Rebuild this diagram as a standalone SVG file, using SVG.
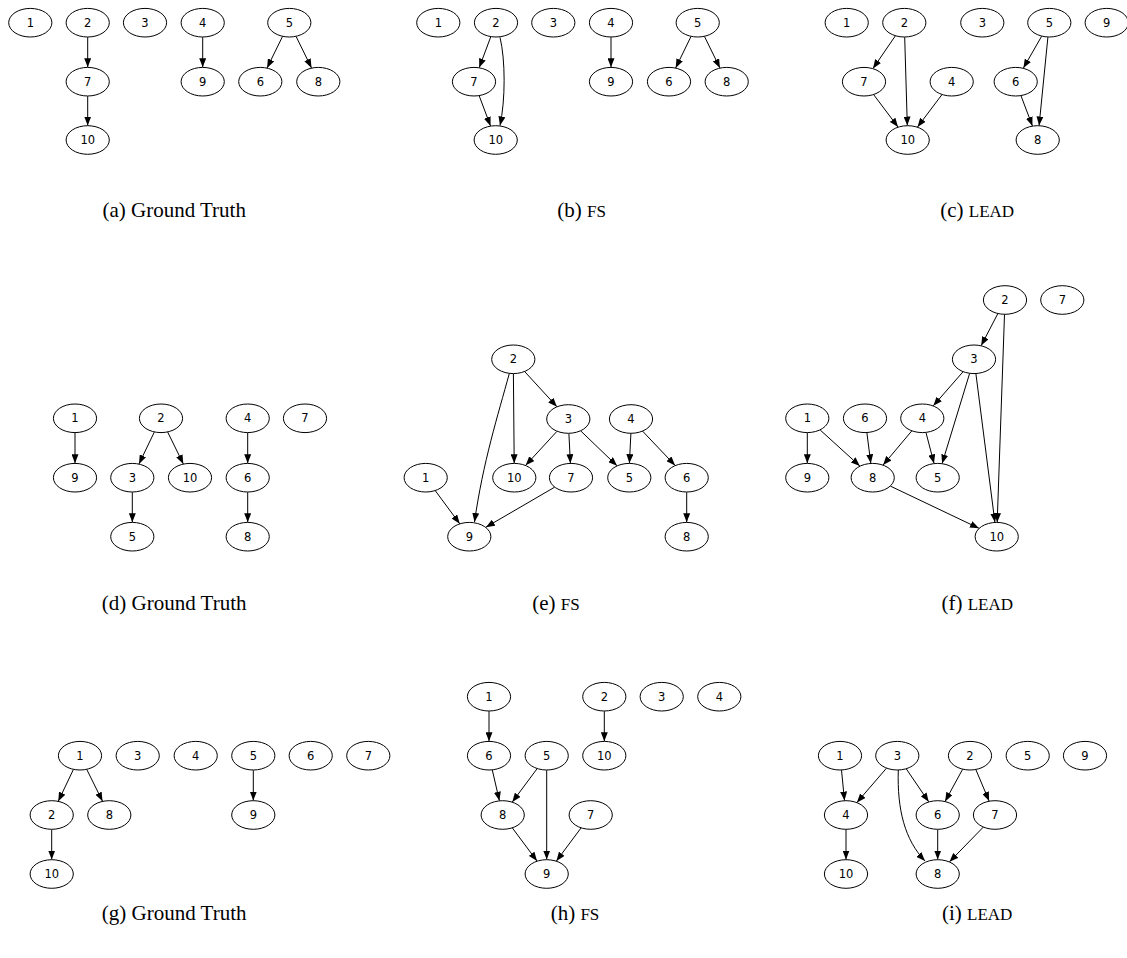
<svg xmlns="http://www.w3.org/2000/svg" width="1127" height="958" viewBox="0 0 1127 958">
<style>
.n ellipse{fill:#fff;stroke:#000;stroke-width:1}
.n text{font-family:"DejaVu Sans",sans-serif;font-size:11.5px;text-anchor:middle;fill:#000}
#edges path{fill:none;stroke:#000;stroke-width:1;marker-end:url(#arr)}
.cap{font-family:"Liberation Serif",serif;font-size:21px;text-anchor:middle;fill:#000}
.sc{font-size:17px}
</style>
<defs>
<marker id="arr" markerWidth="9" markerHeight="7" refX="9" refY="3.5" orient="auto" markerUnits="userSpaceOnUse"><path d="M0,0 L9,3.5 L0,7 z" fill="#000"/></marker>
<ellipse id="el" cx="0" cy="0" rx="21.6" ry="14.3"/>
</defs>
<rect width="1127" height="958" fill="#fff"/>
<g id="edges">
<!-- a -->
<path d="M87.7,37.2 L87.7,67.2"/>
<path d="M87.7,96.2 L87.7,125.5"/>
<path d="M202.7,37.2 L202.7,67.2"/>
<path d="M282.5,36.5 L267.1,67.9"/>
<path d="M296.1,36.5 L311.5,67.9"/>
<!-- b -->
<path d="M490.75,36.8 L479.25,67.6"/>
<path d="M500,37.3 C505.5,60 505.5,100 500,125.5"/>
<path d="M479.2,95.8 L490.5,125.9"/>
<path d="M611,37.2 L611,67.2"/>
<path d="M691,36.5 L675.7,67.9"/>
<path d="M704.5,36.5 L719.9,67.9"/>
<!-- c -->
<path d="M895.3,35.9 L873,68.5"/>
<path d="M904.7,37.2 L907.3,125.5"/>
<path d="M873.7,94.7 L898,127"/>
<path d="M941.9,94.7 L917.5,127"/>
<path d="M1041.6,36.3 L1023.4,68.1"/>
<path d="M1047.9,37.2 L1039.1,125.5"/>
<path d="M1021,95.8 L1032.4,125.9"/>
<!-- d -->
<path d="M75,432.8 L75,463.2"/>
<path d="M154.3,432.1 L139,463.9"/>
<path d="M167.7,432.1 L183.3,463.9"/>
<path d="M247.7,432.8 L247.7,463.2"/>
<path d="M247.7,492.2 L247.7,522.2"/>
<path d="M132.3,492.2 L132.3,522.2"/>
<!-- e -->
<path d="M513.4,373.8 L514.2,463.2"/>
<path d="M524.7,371.6 L556.9,406.7"/>
<path d="M509.3,373.5 C498,415 483,462 474.5,522"/>
<path d="M556.9,431.4 L525.7,465.3"/>
<path d="M568.9,433.5 L570.4,463.2"/>
<path d="M580.7,430.9 L617,465.8"/>
<path d="M630.9,433.5 L629.4,463.2"/>
<path d="M642.6,431.2 L675.1,465.4"/>
<path d="M435.3,490.7 L459.7,523.7"/>
<path d="M554.6,487.2 L485.9,527.2"/>
<path d="M686.7,492.2 L686.7,522.2"/>
<!-- f -->
<path d="M997.8,313.7 L981.2,345.6"/>
<path d="M1004.5,314.5 L997.2,522.2"/>
<path d="M963,371.8 L933.3,405.8"/>
<path d="M969.6,373.5 L942.1,463.5"/>
<path d="M975.9,373.7 L994.9,522.3"/>
<path d="M807.3,432.8 L807.3,463.2"/>
<path d="M820.2,430 L859.8,466"/>
<path d="M866.9,432.8 L870.8,463.3"/>
<path d="M911.7,431 L883.1,465"/>
<path d="M926,432.6 L934,463.4"/>
<path d="M890.4,486.1 L979,528.3"/>
<!-- g -->
<path d="M73.4,769.5 L58.3,801.2"/>
<path d="M86.8,769.5 L102.5,801.2"/>
<path d="M253.3,770.2 L253.3,800.5"/>
<path d="M51.7,829.5 L51.7,859.5"/>
<!-- h -->
<path d="M489,711.2 L489,741.2"/>
<path d="M604.3,711.2 L604.3,741.2"/>
<path d="M492.3,770 L499.4,800.7"/>
<path d="M537.1,768.7 L512.3,802"/>
<path d="M546.7,770.2 L546.7,859.5"/>
<path d="M512.4,828 L537,861"/>
<path d="M581,828 L556.4,861"/>
<!-- i -->
<path d="M841.5,770.1 L844.5,800.6"/>
<path d="M886.4,768.3 L856.9,802.5"/>
<path d="M906.3,768.9 L928.7,801.8"/>
<path d="M898.3,770 C897,810 905,840 925,861"/>
<path d="M962.6,769.3 L945.1,801.4"/>
<path d="M975.9,769.7 L989.1,801"/>
<path d="M846,829.5 L846,859.5"/>
<path d="M937.7,829.5 L937.7,859.5"/>
<path d="M983.2,827.2 L949.5,861.8"/>
</g>
<!-- panel a -->
<g id="a1" class="n"><ellipse cx="30.3" cy="22.7" rx="21.6" ry="14.3"/><text x="30.3" y="26.7">1</text></g>
<g id="a2" class="n"><ellipse cx="87.7" cy="22.7" rx="21.6" ry="14.3"/><text x="87.7" y="26.7">2</text></g>
<g id="a3" class="n"><ellipse cx="145" cy="22.7" rx="21.6" ry="14.3"/><text x="145" y="26.7">3</text></g>
<g id="a4" class="n"><ellipse cx="202.7" cy="22.7" rx="21.6" ry="14.3"/><text x="202.7" y="26.7">4</text></g>
<g id="a5" class="n"><ellipse cx="289.3" cy="22.7" rx="21.6" ry="14.3"/><text x="289.3" y="26.7">5</text></g>
<g id="a7" class="n"><ellipse cx="87.7" cy="81.7" rx="21.6" ry="14.3"/><text x="87.7" y="85.7">7</text></g>
<g id="a9" class="n"><ellipse cx="202.7" cy="81.7" rx="21.6" ry="14.3"/><text x="202.7" y="85.7">9</text></g>
<g id="a6" class="n"><ellipse cx="260.3" cy="81.7" rx="21.6" ry="14.3"/><text x="260.3" y="85.7">6</text></g>
<g id="a8" class="n"><ellipse cx="318.3" cy="81.7" rx="21.6" ry="14.3"/><text x="318.3" y="85.7">8</text></g>
<g id="a10" class="n"><ellipse cx="87.7" cy="140" rx="21.6" ry="14.3"/><text x="87.7" y="144">10</text></g>
<!-- panel b -->
<g id="b1" class="n"><ellipse cx="438.3" cy="22.7" rx="21.6" ry="14.3"/><text x="438.3" y="26.7">1</text></g>
<g id="b2" class="n"><ellipse cx="496" cy="22.7" rx="21.6" ry="14.3"/><text x="496" y="26.7">2</text></g>
<g id="b3" class="n"><ellipse cx="553.3" cy="22.7" rx="21.6" ry="14.3"/><text x="553.3" y="26.7">3</text></g>
<g id="b4" class="n"><ellipse cx="611" cy="22.7" rx="21.6" ry="14.3"/><text x="611" y="26.7">4</text></g>
<g id="b5" class="n"><ellipse cx="697.7" cy="22.7" rx="21.6" ry="14.3"/><text x="697.7" y="26.7">5</text></g>
<g id="b7" class="n"><ellipse cx="474" cy="81.7" rx="21.6" ry="14.3"/><text x="474" y="85.7">7</text></g>
<g id="b9" class="n"><ellipse cx="611" cy="81.7" rx="21.6" ry="14.3"/><text x="611" y="85.7">9</text></g>
<g id="b6" class="n"><ellipse cx="669" cy="81.7" rx="21.6" ry="14.3"/><text x="669" y="85.7">6</text></g>
<g id="b8" class="n"><ellipse cx="726.7" cy="81.7" rx="21.6" ry="14.3"/><text x="726.7" y="85.7">8</text></g>
<g id="b10" class="n"><ellipse cx="495.7" cy="140" rx="21.6" ry="14.3"/><text x="495.7" y="144">10</text></g>
<!-- panel c -->
<g id="c1" class="n"><ellipse cx="846.7" cy="22.7" rx="21.6" ry="14.3"/><text x="846.7" y="26.7">1</text></g>
<g id="c2" class="n"><ellipse cx="904.3" cy="22.7" rx="21.6" ry="14.3"/><text x="904.3" y="26.7">2</text></g>
<g id="c3" class="n"><ellipse cx="982.3" cy="22.7" rx="21.6" ry="14.3"/><text x="982.3" y="26.7">3</text></g>
<g id="c5" class="n"><ellipse cx="1049.3" cy="22.7" rx="21.6" ry="14.3"/><text x="1049.3" y="26.7">5</text></g>
<g id="c9" class="n"><ellipse cx="1106.7" cy="22.7" rx="21.6" ry="14.3"/><text x="1106.7" y="26.7">9</text></g>
<g id="c7" class="n"><ellipse cx="864" cy="81.7" rx="21.6" ry="14.3"/><text x="864" y="85.7">7</text></g>
<g id="c4" class="n"><ellipse cx="951.7" cy="81.7" rx="21.6" ry="14.3"/><text x="951.7" y="85.7">4</text></g>
<g id="c6" class="n"><ellipse cx="1015.7" cy="81.7" rx="21.6" ry="14.3"/><text x="1015.7" y="85.7">6</text></g>
<g id="c10" class="n"><ellipse cx="907.7" cy="140" rx="21.6" ry="14.3"/><text x="907.7" y="144">10</text></g>
<g id="c8" class="n"><ellipse cx="1037.7" cy="140" rx="21.6" ry="14.3"/><text x="1037.7" y="144">8</text></g>
<!-- panel d -->
<g id="d1" class="n"><ellipse cx="75" cy="418.3" rx="21.6" ry="14.3"/><text x="75" y="422.3">1</text></g>
<g id="d2" class="n"><ellipse cx="161" cy="418.3" rx="21.6" ry="14.3"/><text x="161" y="422.3">2</text></g>
<g id="d4" class="n"><ellipse cx="247.7" cy="418.3" rx="21.6" ry="14.3"/><text x="247.7" y="422.3">4</text></g>
<g id="d7" class="n"><ellipse cx="305" cy="418.3" rx="21.6" ry="14.3"/><text x="305" y="422.3">7</text></g>
<g id="d9" class="n"><ellipse cx="75" cy="477.7" rx="21.6" ry="14.3"/><text x="75" y="481.7">9</text></g>
<g id="d3" class="n"><ellipse cx="132.3" cy="477.7" rx="21.6" ry="14.3"/><text x="132.3" y="481.7">3</text></g>
<g id="d10" class="n"><ellipse cx="190" cy="477.7" rx="21.6" ry="14.3"/><text x="190" y="481.7">10</text></g>
<g id="d6" class="n"><ellipse cx="247.7" cy="477.7" rx="21.6" ry="14.3"/><text x="247.7" y="481.7">6</text></g>
<g id="d5" class="n"><ellipse cx="132.3" cy="536.7" rx="21.6" ry="14.3"/><text x="132.3" y="540.7">5</text></g>
<g id="d8" class="n"><ellipse cx="247.7" cy="536.7" rx="21.6" ry="14.3"/><text x="247.7" y="540.7">8</text></g>
<!-- panel e -->
<g id="e2" class="n"><ellipse cx="513.3" cy="359.3" rx="21.6" ry="14.3"/><text x="513.3" y="363.3">2</text></g>
<g id="e3" class="n"><ellipse cx="568.3" cy="419" rx="21.6" ry="14.3"/><text x="568.3" y="423">3</text></g>
<g id="e4" class="n"><ellipse cx="631" cy="419" rx="21.6" ry="14.3"/><text x="631" y="423">4</text></g>
<g id="e1" class="n"><ellipse cx="425.7" cy="477.7" rx="21.6" ry="14.3"/><text x="425.7" y="481.7">1</text></g>
<g id="e10" class="n"><ellipse cx="514.3" cy="477.7" rx="21.6" ry="14.3"/><text x="514.3" y="481.7">10</text></g>
<g id="e7" class="n"><ellipse cx="571" cy="477.7" rx="21.6" ry="14.3"/><text x="571" y="481.7">7</text></g>
<g id="e5" class="n"><ellipse cx="629.3" cy="477.7" rx="21.6" ry="14.3"/><text x="629.3" y="481.7">5</text></g>
<g id="e6" class="n"><ellipse cx="686.7" cy="477.7" rx="21.6" ry="14.3"/><text x="686.7" y="481.7">6</text></g>
<g id="e9" class="n"><ellipse cx="469.3" cy="536.7" rx="21.6" ry="14.3"/><text x="469.3" y="540.7">9</text></g>
<g id="e8" class="n"><ellipse cx="686.7" cy="536.7" rx="21.6" ry="14.3"/><text x="686.7" y="540.7">8</text></g>
<!-- panel f -->
<g id="f2" class="n"><ellipse cx="1005" cy="300" rx="21.6" ry="14.3"/><text x="1005" y="304">2</text></g>
<g id="f7" class="n"><ellipse cx="1062.3" cy="300" rx="21.6" ry="14.3"/><text x="1062.3" y="304">7</text></g>
<g id="f3" class="n"><ellipse cx="974" cy="359.3" rx="21.6" ry="14.3"/><text x="974" y="363.3">3</text></g>
<g id="f1" class="n"><ellipse cx="807.3" cy="418.3" rx="21.6" ry="14.3"/><text x="807.3" y="422.3">1</text></g>
<g id="f6" class="n"><ellipse cx="865" cy="418.3" rx="21.6" ry="14.3"/><text x="865" y="422.3">6</text></g>
<g id="f4" class="n"><ellipse cx="922.3" cy="418.3" rx="21.6" ry="14.3"/><text x="922.3" y="422.3">4</text></g>
<g id="f9" class="n"><ellipse cx="807.3" cy="477.7" rx="21.6" ry="14.3"/><text x="807.3" y="481.7">9</text></g>
<g id="f8" class="n"><ellipse cx="872.7" cy="477.7" rx="21.6" ry="14.3"/><text x="872.7" y="481.7">8</text></g>
<g id="f5" class="n"><ellipse cx="937.7" cy="477.7" rx="21.6" ry="14.3"/><text x="937.7" y="481.7">5</text></g>
<g id="f10" class="n"><ellipse cx="996.7" cy="536.7" rx="21.6" ry="14.3"/><text x="996.7" y="540.7">10</text></g>
<!-- panel g -->
<g id="g1" class="n"><ellipse cx="80" cy="755.7" rx="21.6" ry="14.3"/><text x="80" y="759.7">1</text></g>
<g id="g3" class="n"><ellipse cx="137.7" cy="755.7" rx="21.6" ry="14.3"/><text x="137.7" y="759.7">3</text></g>
<g id="g4" class="n"><ellipse cx="195.7" cy="755.7" rx="21.6" ry="14.3"/><text x="195.7" y="759.7">4</text></g>
<g id="g5" class="n"><ellipse cx="253.3" cy="755.7" rx="21.6" ry="14.3"/><text x="253.3" y="759.7">5</text></g>
<g id="g6" class="n"><ellipse cx="310.7" cy="755.7" rx="21.6" ry="14.3"/><text x="310.7" y="759.7">6</text></g>
<g id="g7" class="n"><ellipse cx="368.3" cy="755.7" rx="21.6" ry="14.3"/><text x="368.3" y="759.7">7</text></g>
<g id="g2" class="n"><ellipse cx="51.7" cy="815" rx="21.6" ry="14.3"/><text x="51.7" y="819">2</text></g>
<g id="g8" class="n"><ellipse cx="109.3" cy="815" rx="21.6" ry="14.3"/><text x="109.3" y="819">8</text></g>
<g id="g9" class="n"><ellipse cx="253.3" cy="815" rx="21.6" ry="14.3"/><text x="253.3" y="819">9</text></g>
<g id="g10" class="n"><ellipse cx="51.7" cy="874" rx="21.6" ry="14.3"/><text x="51.7" y="878">10</text></g>
<!-- panel h -->
<g id="h1" class="n"><ellipse cx="489" cy="696.7" rx="21.6" ry="14.3"/><text x="489" y="700.7">1</text></g>
<g id="h2" class="n"><ellipse cx="604.3" cy="696.7" rx="21.6" ry="14.3"/><text x="604.3" y="700.7">2</text></g>
<g id="h3" class="n"><ellipse cx="661.7" cy="696.7" rx="21.6" ry="14.3"/><text x="661.7" y="700.7">3</text></g>
<g id="h4" class="n"><ellipse cx="719.3" cy="696.7" rx="21.6" ry="14.3"/><text x="719.3" y="700.7">4</text></g>
<g id="h6" class="n"><ellipse cx="489" cy="755.7" rx="21.6" ry="14.3"/><text x="489" y="759.7">6</text></g>
<g id="h5" class="n"><ellipse cx="546.7" cy="755.7" rx="21.6" ry="14.3"/><text x="546.7" y="759.7">5</text></g>
<g id="h10" class="n"><ellipse cx="604.3" cy="755.7" rx="21.6" ry="14.3"/><text x="604.3" y="759.7">10</text></g>
<g id="h8" class="n"><ellipse cx="502.7" cy="815" rx="21.6" ry="14.3"/><text x="502.7" y="819">8</text></g>
<g id="h7" class="n"><ellipse cx="590.7" cy="815" rx="21.6" ry="14.3"/><text x="590.7" y="819">7</text></g>
<g id="h9" class="n"><ellipse cx="546.7" cy="874" rx="21.6" ry="14.3"/><text x="546.7" y="878">9</text></g>
<!-- panel i -->
<g id="i1" class="n"><ellipse cx="840" cy="755.7" rx="21.6" ry="14.3"/><text x="840" y="759.7">1</text></g>
<g id="i3" class="n"><ellipse cx="897.3" cy="755.7" rx="21.6" ry="14.3"/><text x="897.3" y="759.7">3</text></g>
<g id="i2" class="n"><ellipse cx="970" cy="755.7" rx="21.6" ry="14.3"/><text x="970" y="759.7">2</text></g>
<g id="i5" class="n"><ellipse cx="1027.7" cy="755.7" rx="21.6" ry="14.3"/><text x="1027.7" y="759.7">5</text></g>
<g id="i9" class="n"><ellipse cx="1085" cy="755.7" rx="21.6" ry="14.3"/><text x="1085" y="759.7">9</text></g>
<g id="i4" class="n"><ellipse cx="846" cy="815" rx="21.6" ry="14.3"/><text x="846" y="819">4</text></g>
<g id="i6" class="n"><ellipse cx="937.7" cy="815" rx="21.6" ry="14.3"/><text x="937.7" y="819">6</text></g>
<g id="i7" class="n"><ellipse cx="995" cy="815" rx="21.6" ry="14.3"/><text x="995" y="819">7</text></g>
<g id="i10" class="n"><ellipse cx="846" cy="874" rx="21.6" ry="14.3"/><text x="846" y="878">10</text></g>
<g id="i8" class="n"><ellipse cx="937.7" cy="874" rx="21.6" ry="14.3"/><text x="937.7" y="878">8</text></g>
<!-- captions -->
<g id="captions">
<text class="cap" x="174.2" y="217">(a) Ground Truth</text>
<text class="cap" x="581.7" y="217">(b) <tspan class="sc">FS</tspan></text>
<text class="cap" x="977.2" y="217">(c) <tspan class="sc">LEAD</tspan></text>
<text class="cap" x="174.2" y="610">(d) Ground Truth</text>
<text class="cap" x="556" y="610">(e) <tspan class="sc">FS</tspan></text>
<text class="cap" x="977.2" y="610">(f) <tspan class="sc">LEAD</tspan></text>
<text class="cap" x="174.2" y="920">(g) Ground Truth</text>
<text class="cap" x="575" y="920">(h) <tspan class="sc">FS</tspan></text>
<text class="cap" x="977.2" y="920">(i) <tspan class="sc">LEAD</tspan></text>
</g>
</svg>
